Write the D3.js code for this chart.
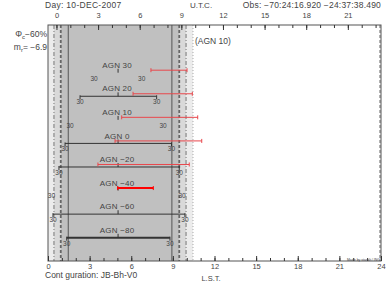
<!DOCTYPE html>
<html><head><meta charset="utf-8">
<script src="https://cdn.jsdelivr.net/npm/d3@7"></script>
<style>
body{margin:0;background:#fff;}
text{font-family:"Liberation Sans",Arial,sans-serif;fill:#444;}
</style></head>
<body><svg id="c" width="390" height="283"></svg>
<script>
// ---- data (LST hours) ----
const objects   = ["AGN 30","AGN 20","AGN 10","AGN 0","AGN −20","AGN −40","AGN −60","AGN −80"];
const transit   = [5.05,5.05,5.05,5.05,5.05,5.05,5.05,5.05];
const rise30    = [3.32,2.31,1.59,1.23,0.79,0.25,0.36,1.35];
const set30     = [6.75,7.83,8.29,8.90,9.46,9.66,9.87,8.79];
const hasTrack  = [false,true,false,true,true,false,true,true];
const redStart  = [7.42,6.13,5.31,4.83,3.60,5.02,null,null];
const redEnd    = [10.02,10.40,10.79,11.08,10.18,7.59,null,null];
const altLabel  = "30";
// sun events (LST hours)
const sunset = 1.46, sunrise = 8.93;
const twiA = [0.92, 9.46];   // dashed
const twiB = [0.43, 9.95];   // dash-dot
const twiC = [-0.07, 10.45]; // dotted
const utOffset = 0.61;       // LST - UT
const lstTicks = d3.range(0,25);
const lstLabels = d3.range(0,25,3);
const utTicks = d3.range(0,24);
const utLabels = d3.range(0,22,3);
const dayText = "Day: 10-DEC-2007";
const utcText = "U.T.C.";
const obsText = "Obs: −70:24:16.920 −24:37:38.490";
const moonText = "−60%";
const magText = "= −6.9";
const selected = "(AGN 10)";
const confText = "Cont guration: JB-Bh-V0";
const lstText = "L.S.T.";

// ---- layout ----
const L=48,R=381,T=25,B=261;
const svg=d3.select("#c");
const x=d3.scaleLinear().domain([0,24]).range([L,R]);
const xu=d3.scaleLinear().domain([0-utOffset,24-utOffset]).range([L,R]);
const y=d3.scalePoint().domain(objects).range([65,230]);

svg.append("clipPath").attr("id","clp").append("rect").attr("x",L).attr("y",T).attr("width",R-L).attr("height",B-T);
// shading
const g=svg.append("g").attr("clip-path","url(#clp)");
g.append("rect").attr("x",x(twiC[0])).attr("y",T).attr("width",x(twiC[1])-x(twiC[0])).attr("height",B-T).attr("fill","#ececec");
g.append("rect").attr("x",x(twiB[0])).attr("y",T).attr("width",x(twiB[1])-x(twiB[0])).attr("height",B-T).attr("fill","#d9d9d9");
g.append("rect").attr("x",x(twiA[0])).attr("y",T).attr("width",x(twiA[1])-x(twiA[0])).attr("height",B-T).attr("fill","#c0c0c0");

function vline(h,stroke,w,dash){
  const xx=x(h); if(xx<L||xx>R) return;
  svg.append("line").attr("x1",xx).attr("x2",xx).attr("y1",T).attr("y2",B)
    .attr("stroke",stroke).attr("stroke-width",w).attr("stroke-dasharray",dash||null);
}
[sunset,sunrise].forEach(h=>vline(h,"#555",1));
twiA.forEach(h=>vline(h,"#666",1.8,"3,2"));
twiB.forEach(h=>vline(h,"#777",1,"4,2,1,2"));
twiC.forEach(h=>vline(h,"#aaa",1,"1,2"));
svg.append("line").attr("x1",R-1).attr("x2",R-1).attr("y1",T).attr("y2",B).attr("stroke","#999").attr("stroke-width",1.5).attr("stroke-dasharray","3,2");

// frame
svg.append("rect").attr("x",L).attr("y",T).attr("width",R-L).attr("height",B-T).attr("fill","none").attr("stroke","#555").attr("stroke-width",1);

// axes
function axisG(axis,ty){
  const a=svg.append("g").attr("transform",`translate(0,${ty})`).call(axis);
  a.select(".domain").remove();
  a.selectAll("line").attr("stroke","#333");
  a.selectAll("text").attr("font-size",7.5).attr("fill","#444").style("font-family","Liberation Sans, Arial, sans-serif");
  return a;
}
axisG(d3.axisBottom(x).tickValues(lstTicks).tickSize(-3).tickFormat(""),B);
axisG(d3.axisBottom(x).tickValues(lstLabels).tickSize(-5).tickPadding(3).tickFormat(d3.format("d")),B);
axisG(d3.axisTop(xu).tickValues(utTicks).tickSize(-3).tickFormat(""),T);
axisG(d3.axisTop(xu).tickValues(utLabels).tickSize(-5).tickPadding(7).tickFormat(d3.format("d")),T);

// header texts
svg.append("text").attr("x",45).attr("y",8).attr("font-size",8.5).attr("letter-spacing",0.3).text(dayText);
svg.append("text").attr("x",201).attr("y",8).attr("font-size",8).attr("text-anchor","middle").text(utcText);
svg.append("text").attr("x",381).attr("y",8).attr("font-size",8.5).attr("letter-spacing",0.2).attr("text-anchor","end").text(obsText);
const t1=svg.append("text").attr("x",47).attr("y",37).attr("font-size",8.5).attr("text-anchor","end");
t1.append("tspan").text("Φ"); t1.append("tspan").attr("font-size",6).attr("dy",2).text("c"); t1.append("tspan").attr("dy",-2).text(moonText);
const t2=svg.append("text").attr("x",47).attr("y",50).attr("font-size",8.5).attr("text-anchor","end");
t2.append("tspan").text("m"); t2.append("tspan").attr("font-size",6).attr("dy",2).text("r"); t2.append("tspan").attr("dy",-2).text(magText);
svg.append("text").attr("x",195).attr("y",44).attr("font-size",8.5).text(selected);
svg.append("text").attr("x",45).attr("y",278).attr("font-size",8.5).text(confText);
svg.append("text").attr("x",211).attr("y",281).attr("font-size",7.5).attr("text-anchor","middle").text(lstText);
svg.append("text").attr("x",380).attr("y",261).attr("font-size",3.5).attr("text-anchor","end").text("Made by staralt / ING");

// objects
objects.forEach((name,i)=>{
  const yc=y(name);
  const lineY=yc+7.7, redY=yc+5.2;
  svg.append("text").attr("x",x(transit[i])-1).attr("y",yc+2.8).attr("font-size",8).attr("letter-spacing",0.2).attr("text-anchor","middle").text(name);
  svg.append("line").attr("x1",x(transit[i])).attr("x2",x(transit[i])).attr("y1",yc+3.8).attr("y2",lineY).attr("stroke","#333").attr("stroke-width",1);
  if(hasTrack[i]){
    const w = i===objects.length-1 ? 2 : 1;
    svg.append("line").attr("x1",x(rise30[i])).attr("x2",x(set30[i])).attr("y1",lineY).attr("y2",lineY).attr("stroke","#333").attr("stroke-width",w);
    [rise30[i],set30[i]].forEach(h=>svg.append("line").attr("x1",x(h)).attr("x2",x(h)).attr("y1",lineY-1).attr("y2",lineY+3).attr("stroke","#333"));
  }
  [rise30[i],set30[i]].forEach(h=>svg.append("text").attr("x",x(h)).attr("y",yc+15.5).attr("font-size",6.5).attr("text-anchor","middle").text(altLabel));
  if(redStart[i]!=null){
    const bright = i===5;
    const col = bright ? "#f00" : "#e8474c";
    const w = bright ? 2 : 1;
    svg.append("line").attr("x1",x(redStart[i])).attr("x2",x(redEnd[i])).attr("y1",redY).attr("y2",redY).attr("stroke",col).attr("stroke-width",w);
    [redStart[i],redEnd[i]].forEach(h=>svg.append("line").attr("x1",x(h)).attr("x2",x(h)).attr("y1",redY-2).attr("y2",redY+2).attr("stroke",col).attr("stroke-width",1));
  }
});
</script></body></html>
